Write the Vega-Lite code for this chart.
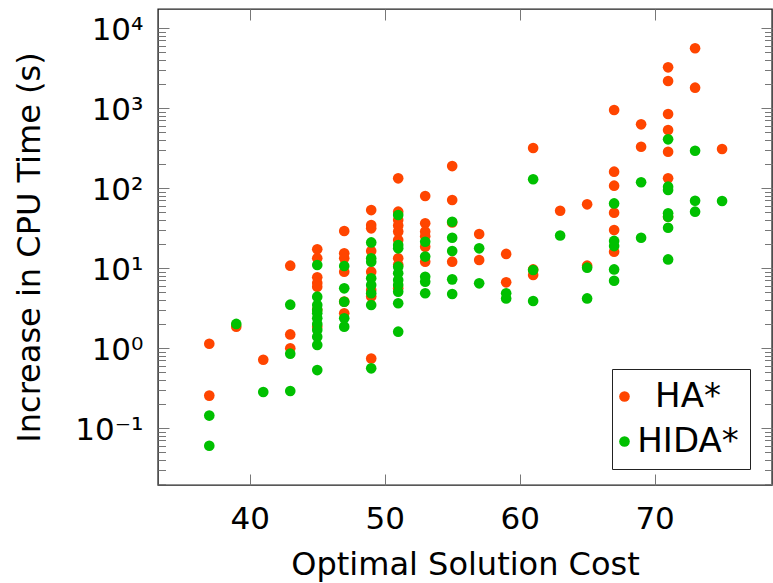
{
  "$schema": "https://vega.github.io/schema/vega-lite/v6.json",
  "width": 614,
  "height": 476,
  "autosize": {"type": "none"},
  "padding": {"left": 158, "top": 9, "right": 1, "bottom": 98},
  "background": "white",
  "config": {
    "view": {"stroke": "#222222", "strokeWidth": 1.4},
    "font": "DejaVu Sans",
    "axis": {"grid": false, "domain": false, "tickColor": "#777777", "tickWidth": 1}
  },
  "data": {
    "values": [
      {"x": 37, "y": 1.13, "s": "HA*"}, {"x": 37, "y": 0.254, "s": "HA*"},
      {"x": 39, "y": 1.85, "s": "HA*"},
      {"x": 41, "y": 0.714, "s": "HA*"},
      {"x": 43, "y": 10.7, "s": "HA*"}, {"x": 43, "y": 1.48, "s": "HA*"}, {"x": 43, "y": 0.99, "s": "HA*"},
      {"x": 45, "y": 17.1, "s": "HA*"}, {"x": 45, "y": 13.2, "s": "HA*"}, {"x": 45, "y": 7.65, "s": "HA*"}, {"x": 45, "y": 6.5, "s": "HA*"}, {"x": 45, "y": 5.84, "s": "HA*"}, {"x": 45, "y": 3.0, "s": "HA*"}, {"x": 45, "y": 1.85, "s": "HA*"},
      {"x": 47, "y": 29, "s": "HA*"}, {"x": 47, "y": 15.3, "s": "HA*"}, {"x": 47, "y": 13.2, "s": "HA*"}, {"x": 47, "y": 9.0, "s": "HA*"}, {"x": 47, "y": 3.8, "s": "HA*"}, {"x": 47, "y": 2.71, "s": "HA*"},
      {"x": 49, "y": 53, "s": "HA*"}, {"x": 49, "y": 34.5, "s": "HA*"}, {"x": 49, "y": 31.3, "s": "HA*"}, {"x": 49, "y": 16.3, "s": "HA*"}, {"x": 49, "y": 9.0, "s": "HA*"}, {"x": 49, "y": 5.3, "s": "HA*"}, {"x": 49, "y": 4.4, "s": "HA*"}, {"x": 49, "y": 0.74, "s": "HA*"},
      {"x": 51, "y": 132, "s": "HA*"}, {"x": 51, "y": 50.6, "s": "HA*"}, {"x": 51, "y": 39.8, "s": "HA*"}, {"x": 51, "y": 34, "s": "HA*"}, {"x": 51, "y": 28.5, "s": "HA*"}, {"x": 51, "y": 22.4, "s": "HA*"}, {"x": 51, "y": 13.2, "s": "HA*"}, {"x": 51, "y": 11, "s": "HA*"}, {"x": 51, "y": 5.57, "s": "HA*"},
      {"x": 53, "y": 79.4, "s": "HA*"}, {"x": 53, "y": 36.2, "s": "HA*"}, {"x": 53, "y": 28.5, "s": "HA*"}, {"x": 53, "y": 25, "s": "HA*"}, {"x": 53, "y": 18.5, "s": "HA*"}, {"x": 53, "y": 12.0, "s": "HA*"},
      {"x": 55, "y": 188, "s": "HA*"}, {"x": 55, "y": 70.8, "s": "HA*"}, {"x": 55, "y": 37, "s": "HA*"}, {"x": 55, "y": 12.0, "s": "HA*"},
      {"x": 57, "y": 26.6, "s": "HA*"}, {"x": 57, "y": 12.6, "s": "HA*"},
      {"x": 59, "y": 15.0, "s": "HA*"}, {"x": 59, "y": 6.62, "s": "HA*"},
      {"x": 61, "y": 316, "s": "HA*"}, {"x": 61, "y": 9.6, "s": "HA*"}, {"x": 61, "y": 8.2, "s": "HA*"},
      {"x": 63, "y": 52, "s": "HA*"},
      {"x": 65, "y": 62.5, "s": "HA*"}, {"x": 65, "y": 10.7, "s": "HA*"},
      {"x": 67, "y": 944, "s": "HA*"}, {"x": 67, "y": 160, "s": "HA*"}, {"x": 67, "y": 107, "s": "HA*"}, {"x": 67, "y": 49.1, "s": "HA*"}, {"x": 67, "y": 29.9, "s": "HA*"}, {"x": 67, "y": 16.0, "s": "HA*"},
      {"x": 69, "y": 625, "s": "HA*"}, {"x": 69, "y": 328, "s": "HA*"},
      {"x": 71, "y": 3225, "s": "HA*"}, {"x": 71, "y": 2175, "s": "HA*"}, {"x": 71, "y": 841, "s": "HA*"}, {"x": 71, "y": 531, "s": "HA*"}, {"x": 71, "y": 284, "s": "HA*"}, {"x": 71, "y": 132, "s": "HA*"}, {"x": 71, "y": 43.8, "s": "HA*"},
      {"x": 73, "y": 5575, "s": "HA*"}, {"x": 73, "y": 1795, "s": "HA*"},
      {"x": 75, "y": 307, "s": "HA*"},
      {"x": 37, "y": 0.143, "s": "HIDA*"}, {"x": 37, "y": 0.06, "s": "HIDA*"},
      {"x": 39, "y": 2.0, "s": "HIDA*"},
      {"x": 41, "y": 0.282, "s": "HIDA*"},
      {"x": 43, "y": 3.48, "s": "HIDA*"}, {"x": 43, "y": 0.85, "s": "HIDA*"}, {"x": 43, "y": 0.29, "s": "HIDA*"},
      {"x": 45, "y": 10.9, "s": "HIDA*"}, {"x": 45, "y": 4.38, "s": "HIDA*"}, {"x": 45, "y": 3.45, "s": "HIDA*"}, {"x": 45, "y": 3.0, "s": "HIDA*"}, {"x": 45, "y": 2.71, "s": "HIDA*"}, {"x": 45, "y": 2.35, "s": "HIDA*"}, {"x": 45, "y": 2.0, "s": "HIDA*"}, {"x": 45, "y": 1.68, "s": "HIDA*"}, {"x": 45, "y": 1.38, "s": "HIDA*"}, {"x": 45, "y": 1.09, "s": "HIDA*"}, {"x": 45, "y": 0.53, "s": "HIDA*"},
      {"x": 47, "y": 10.6, "s": "HIDA*"}, {"x": 47, "y": 5.57, "s": "HIDA*"}, {"x": 47, "y": 3.79, "s": "HIDA*"}, {"x": 47, "y": 2.35, "s": "HIDA*"}, {"x": 47, "y": 1.85, "s": "HIDA*"},
      {"x": 49, "y": 20.9, "s": "HIDA*"}, {"x": 49, "y": 13.2, "s": "HIDA*"}, {"x": 49, "y": 12.0, "s": "HIDA*"}, {"x": 49, "y": 7.43, "s": "HIDA*"}, {"x": 49, "y": 6.13, "s": "HIDA*"}, {"x": 49, "y": 4.83, "s": "HIDA*"}, {"x": 49, "y": 3.45, "s": "HIDA*"}, {"x": 49, "y": 0.557, "s": "HIDA*"},
      {"x": 51, "y": 46, "s": "HIDA*"}, {"x": 51, "y": 19.4, "s": "HIDA*"}, {"x": 51, "y": 17.6, "s": "HIDA*"}, {"x": 51, "y": 10.4, "s": "HIDA*"}, {"x": 51, "y": 8.58, "s": "HIDA*"}, {"x": 51, "y": 7.08, "s": "HIDA*"}, {"x": 51, "y": 6.13, "s": "HIDA*"}, {"x": 51, "y": 5.06, "s": "HIDA*"}, {"x": 51, "y": 3.62, "s": "HIDA*"}, {"x": 51, "y": 1.6, "s": "HIDA*"},
      {"x": 53, "y": 21.3, "s": "HIDA*"}, {"x": 53, "y": 13.9, "s": "HIDA*"}, {"x": 53, "y": 7.78, "s": "HIDA*"}, {"x": 53, "y": 6.74, "s": "HIDA*"}, {"x": 53, "y": 4.83, "s": "HIDA*"},
      {"x": 55, "y": 37.9, "s": "HIDA*"}, {"x": 55, "y": 23.9, "s": "HIDA*"}, {"x": 55, "y": 16.3, "s": "HIDA*"}, {"x": 55, "y": 7.21, "s": "HIDA*"}, {"x": 55, "y": 4.73, "s": "HIDA*"},
      {"x": 57, "y": 17.6, "s": "HIDA*"}, {"x": 57, "y": 6.43, "s": "HIDA*"},
      {"x": 59, "y": 4.83, "s": "HIDA*"}, {"x": 59, "y": 4.17, "s": "HIDA*"},
      {"x": 61, "y": 128.5, "s": "HIDA*"}, {"x": 61, "y": 9.44, "s": "HIDA*"}, {"x": 61, "y": 3.87, "s": "HIDA*"},
      {"x": 63, "y": 25.5, "s": "HIDA*"},
      {"x": 65, "y": 10.1, "s": "HIDA*"}, {"x": 65, "y": 4.17, "s": "HIDA*"},
      {"x": 67, "y": 64.2, "s": "HIDA*"}, {"x": 67, "y": 21.8, "s": "HIDA*"}, {"x": 67, "y": 18.8, "s": "HIDA*"}, {"x": 67, "y": 9.6, "s": "HIDA*"}, {"x": 67, "y": 6.93, "s": "HIDA*"},
      {"x": 69, "y": 118, "s": "HIDA*"}, {"x": 69, "y": 23.9, "s": "HIDA*"},
      {"x": 71, "y": 406, "s": "HIDA*"}, {"x": 71, "y": 104, "s": "HIDA*"}, {"x": 71, "y": 94.4, "s": "HIDA*"}, {"x": 71, "y": 48.3, "s": "HIDA*"}, {"x": 71, "y": 43.8, "s": "HIDA*"}, {"x": 71, "y": 31.9, "s": "HIDA*"}, {"x": 71, "y": 12.8, "s": "HIDA*"},
      {"x": 73, "y": 292, "s": "HIDA*"}, {"x": 73, "y": 69.4, "s": "HIDA*"}, {"x": 73, "y": 50.6, "s": "HIDA*"},
      {"x": 75, "y": 68.8, "s": "HIDA*"}
    ]
  },
  "layer": [
    {
      "mark": {"type": "circle", "size": 113, "opacity": 1},
      "encoding": {
        "x": {
          "field": "x", "type": "quantitative",
          "scale": {"domain": [33.2, 78.7], "nice": false, "zero": false},
          "axis": {
            "orient": "bottom", "values": [40, 50, 60, 70], "ticks": false,
            "labelFontSize": 31, "labelPadding": 43, "labelBaseline": "alphabetic", "labelColor": "black",
            "title": "Optimal Solution Cost", "titleFontSize": 32, "titleFontWeight": "normal", "titleColor": "black",
            "titleY": 89, "titleBaseline": "alphabetic"
          }
        },
        "y": {
          "field": "y", "type": "quantitative",
          "scale": {"type": "log", "domain": [0.01939, 17280], "nice": false},
          "axis": {
            "orient": "left", "values": [0.1, 1, 10, 100, 1000, 10000], "ticks": false,
            "labelExpr": "datum.value >= 9999 ? '10⁴' : datum.value >= 999 ? '10³' : datum.value >= 99 ? '10²' : datum.value >= 9 ? '10¹' : datum.value >= 0.9 ? '10⁰' : '10⁻¹'",
            "labelFontSize": 31, "labelPadding": 15, "labelColor": "black", "labelBaseline": "middle", "labelOffset": 2,
            "title": "Increase in CPU Time (s)", "titleFontSize": 32, "titleFontWeight": "normal", "titleColor": "black",
            "titleAngle": -90, "titleX": -129, "titleY": 238, "titleAlign": "center", "titleBaseline": "middle"
          }
        },
        "color": {
          "field": "s", "type": "nominal",
          "scale": {"domain": ["HA*", "HIDA*"], "range": ["#ff4500", "#00c000"]},
          "legend": {
            "title": null, "orient": "none", "legendX": 454, "legendY": 360,
            "padding": 10.5, "strokeColor": "#222222", "fillColor": "white",
            "labelFontSize": 34, "labelColor": "black", "labelAlign": "center", "labelOffset": 46.5,
            "labelBaseline": "middle", "symbolSize": 113, "symbolType": "circle", "symbolOpacity": 1,
            "symbolStrokeWidth": 0, "symbolOffset": -15, "rowPadding": 11
          }
        }
      }
    },
    {
      "mark": {"type": "circle", "opacity": 0},
      "encoding": {
        "x": {"field": "x", "type": "quantitative", "scale": {"domain": [33.2, 78.7], "nice": false, "zero": false},
          "axis": {"orient": "bottom", "values": [40, 50, 60, 70], "labels": false, "tickSize": -11, "title": null}},
        "y": {"field": "y", "type": "quantitative", "scale": {"type": "log", "domain": [0.01939, 17280], "nice": false},
          "axis": {"orient": "left", "values": [0.1, 1, 10, 100, 1000, 10000], "labels": false, "tickSize": -11, "title": null}}
      }
    },
    {
      "mark": {"type": "circle", "opacity": 0},
      "encoding": {
        "x": {"field": "x", "type": "quantitative", "scale": {"domain": [33.2, 78.7], "nice": false, "zero": false},
          "axis": {"orient": "top", "values": [40, 50, 60, 70], "labels": false, "tickSize": -11, "title": null}},
        "y": {"field": "y", "type": "quantitative", "scale": {"type": "log", "domain": [0.01939, 17280], "nice": false},
          "axis": {"orient": "right", "values": [0.1, 1, 10, 100, 1000, 10000], "labels": false, "tickSize": -11, "title": null}}
      }
    },
    {
      "mark": {"type": "circle", "opacity": 0},
      "encoding": {
        "x": {"field": "x", "type": "quantitative", "scale": {"domain": [33.2, 78.7], "nice": false, "zero": false}, "axis": null},
        "y": {"field": "y", "type": "quantitative", "scale": {"type": "log", "domain": [0.01939, 17280], "nice": false},
          "axis": {"orient": "left", "values": [0.02, 0.03, 0.04, 0.05, 0.06, 0.07, 0.08, 0.09, 0.2, 0.3, 0.4, 0.5, 0.6, 0.7, 0.8, 0.9, 2, 3, 4, 5, 6, 7, 8, 9, 20, 30, 40, 50, 60, 70, 80, 90, 200, 300, 400, 500, 600, 700, 800, 900, 2000, 3000, 4000, 5000, 6000, 7000, 8000, 9000], "labels": false, "tickSize": -7.5, "title": null}}
      }
    },
    {
      "mark": {"type": "circle", "opacity": 0},
      "encoding": {
        "x": {"field": "x", "type": "quantitative", "scale": {"domain": [33.2, 78.7], "nice": false, "zero": false}, "axis": null},
        "y": {"field": "y", "type": "quantitative", "scale": {"type": "log", "domain": [0.01939, 17280], "nice": false},
          "axis": {"orient": "right", "values": [0.02, 0.03, 0.04, 0.05, 0.06, 0.07, 0.08, 0.09, 0.2, 0.3, 0.4, 0.5, 0.6, 0.7, 0.8, 0.9, 2, 3, 4, 5, 6, 7, 8, 9, 20, 30, 40, 50, 60, 70, 80, 90, 200, 300, 400, 500, 600, 700, 800, 900, 2000, 3000, 4000, 5000, 6000, 7000, 8000, 9000], "labels": false, "tickSize": -7.5, "title": null}}
      }
    }
  ],
  "resolve": {"axis": {"x": "independent", "y": "independent"}}
}
